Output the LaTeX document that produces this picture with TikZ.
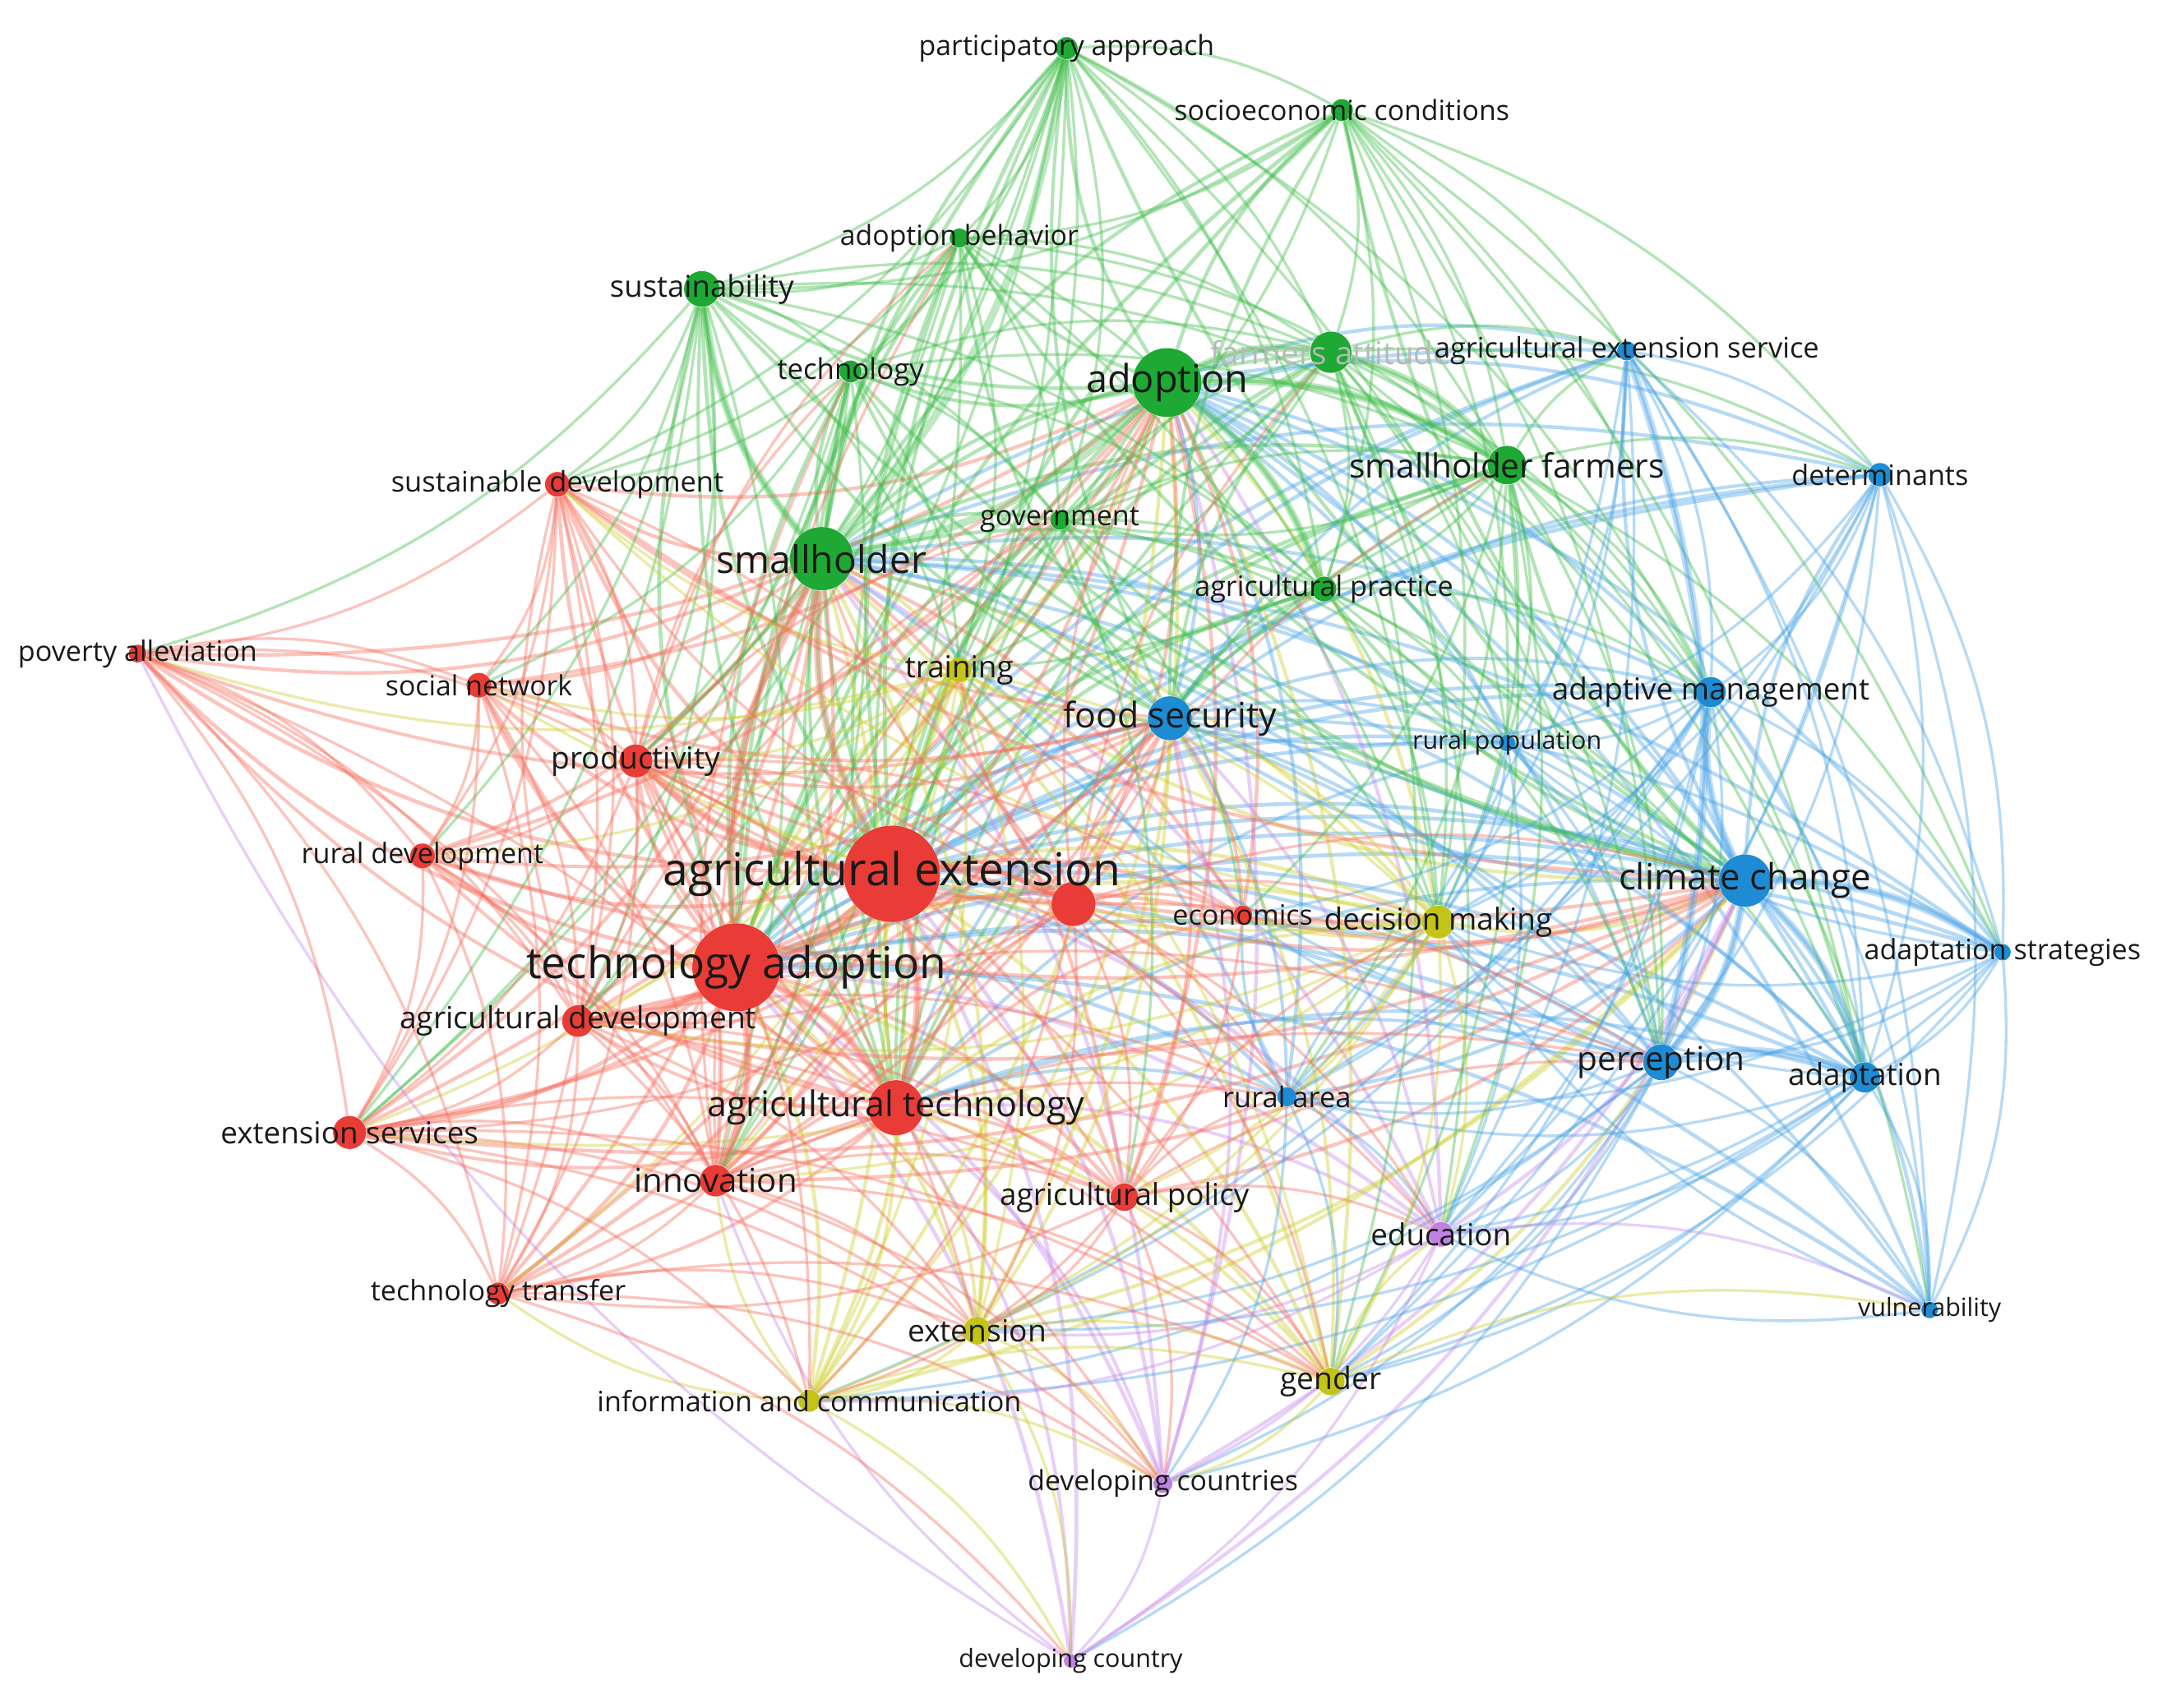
\documentclass[tikz,border=0pt]{standalone}
\usepackage{fontspec}
\setmainfont{Open Sans}
\pgfdeclarelayer{edges}
\pgfdeclarelayer{labels}
\pgfsetlayers{edges,main,labels}
\definecolor{nR}{RGB}{234,60,54}
\definecolor{nG}{RGB}{30,168,52}
\definecolor{nB}{RGB}{30,140,212}
\definecolor{nY}{RGB}{196,196,24}
\definecolor{nP}{RGB}{190,130,225}
\definecolor{eR}{RGB}{246,108,90}
\definecolor{eG}{RGB}{62,188,72}
\definecolor{eB}{RGB}{72,162,230}
\definecolor{eY}{RGB}{205,205,40}
\definecolor{eP}{RGB}{198,135,235}
\newcommand\kw[7]{%
  \tikzset{ec#1/.style={e#5}}%
  \node[kwdot, minimum size={#4*0.5pt}, fill=n#5] (#1) at (#2,#3) {};
  \begin{pgfonlayer}{labels}
  \node[kwlab, font=\fontsize{#6pt}{#6pt}\selectfont] (#1-l) at (#2,#3) {#7};
  \end{pgfonlayer}}
% connectors coloured by the far (target) keyword
\newcommand\kwedges[3]{%
  \foreach \t in {#3} {\draw[edge, ec\t, #1] (#2) to[bend left=16] (\t);}}
% connectors coloured by the source keyword
\newcommand\kwedgesS[3]{%
  \foreach \t in {#3} {\draw[edge, ec#2, #1] (#2) to[bend left=16] (\t);}}
\begin{document}
\begin{tikzpicture}[x=0.5pt,y=-0.5pt,
  kwdot/.style={circle,inner sep=0pt,draw=none},
  kwlab/.style={inner sep=0pt,text=black!90},
  edge/.style={line width=1.0pt, opacity=0.4},
  hubedge/.style={line width=2.8pt, opacity=0.34}]
\useasboundingbox (0,0) rectangle (1568,1241);
% ---------- green ----------
\kw{pa}{775}{35}{16}{G}{10.1}{participatory approach}
\kw{sc}{975}{80}{16}{G}{10.1}{socioeconomic conditions}
\kw{ab}{697}{173}{14}{G}{10.1}{adoption behavior}
\kw{su}{510}{210}{26}{G}{10.9}{sustainability}
\kw{te}{618}{270}{16}{G}{10.4}{technology}
\kw{ad}{848}{278}{50}{G}{14}{adoption}
\kw{fa}{967}{256}{30}{G}{11.5}{\textcolor{black!28}{farmers attitude}}
\kw{sf}{1095}{338}{28}{G}{12.1}{smallholder farmers}
\kw{go}{770}{378}{14}{G}{10.2}{government}
\kw{sh}{597}{406}{46}{G}{13.8}{smallholder}
\kw{ap}{962}{428}{18}{G}{10.2}{agricultural practice}
% ---------- blue ----------
\kw{aes}{1182}{255}{14}{B}{10.3}{agricultural extension service}
\kw{de}{1366}{345}{17}{B}{10.2}{determinants}
\kw{am}{1243}{503}{22}{B}{11}{adaptive management}
\kw{fs}{850}{522}{32}{B}{12.8}{food security}
\kw{rp}{1095}{540}{12}{B}{9.1}{rural population}
\kw{cc}{1268}{640}{38}{B}{13.1}{climate change}
\kw{ast}{1455}{692}{12}{B}{10.2}{adaptation strategies}
\kw{pe}{1207}{772}{26}{B}{12.1}{perception}
\kw{aa}{1355}{783}{22}{B}{11}{adaptation}
\kw{ra}{935}{797}{14}{B}{10.3}{rural area}
\kw{vu}{1402}{952}{12}{B}{9.1}{vulnerability}
% ---------- yellow ----------
\kw{tr}{697}{487}{18}{Y}{11}{training}
\kw{dm}{1045}{670}{24}{Y}{11}{decision making}
\kw{ex}{710}{967}{20}{Y}{11.1}{extension}
\kw{ic}{588}{1018}{16}{Y}{10.2}{information and communication}
\kw{ge}{967}{1004}{20}{Y}{11.1}{gender}
% ---------- purple ----------
\kw{ed}{1047}{897}{18}{P}{11}{education}
\kw{dcs}{845}{1078}{14}{P}{10.1}{developing countries}
\kw{dc}{778}{1207}{10}{P}{9.1}{developing country}
% ---------- red ----------
\kw{sd}{405}{352}{18}{R}{10.3}{sustainable development}
\kw{pv}{100}{475}{13}{R}{10.2}{poverty alleviation}
\kw{sn}{348}{498}{18}{R}{10.1}{social network}
\kw{pr}{462}{553}{24}{R}{11.1}{productivity}
\kw{rd}{307}{622}{18}{R}{10.2}{rural development}
\kw{ae}{648}{635}{70}{R}{16.5}{agricultural extension}
\tikzset{ecun/.style={eR}}
\node[kwdot, minimum size=16pt, fill=nR] (un) at (780,657) {};
\kw{ec}{903}{665}{14}{R}{10.2}{economics}
\kw{ta}{535}{703}{64}{R}{15.9}{technology adoption}
\kw{agd}{420}{742}{23}{R}{11.1}{agricultural development}
\kw{es}{254}{823}{24}{R}{11}{extension services}
\kw{atc}{651}{805}{40}{R}{12.85}{agricultural technology}
\kw{inn}{520}{858}{23}{R}{12}{innovation}
\kw{apo}{817}{870}{20}{R}{11}{agricultural policy}
\kw{tt}{362}{940}{16}{R}{10.2}{technology transfer}
% ---------- connectors ----------
\begin{pgfonlayer}{edges}
% hubs (coloured by the other keyword)
\kwedges{line width=1.4pt}{ae}{pa,sc,ab,su,te,ad,fa,sf,go,sh,ap,aes,de,am,fs,rp,cc,ast,pe,aa,ra,vu,tr,dm,ex,ic,ge,ed,dcs,dc,sd,pv,sn,pr,rd,un,ec,ta,agd,es,atc,inn,apo,tt}
\kwedges{line width=1.4pt}{ta}{pa,sc,ab,su,te,ad,fa,sf,go,sh,ap,aes,de,am,fs,rp,cc,ast,pe,aa,ra,vu,tr,dm,ex,ic,ge,ed,dcs,dc,sd,pv,sn,pr,rd,un,ec,agd,es,atc,inn,apo,tt}
\kwedges{line width=1.2pt}{atc}{pa,ab,su,te,ad,fa,sf,go,sh,ap,fs,rp,cc,pe,aa,ra,tr,dm,ex,ic,ge,ed,dcs,dc,sd,pv,sn,pr,rd,un,ec,agd,es,inn,apo,tt}
\kwedges{line width=1.3pt}{sh}{pa,sc,ab,su,te,ad,fa,sf,go,ap,aes,de,am,fs,rp,cc,ast,pe,aa,ra,tr,dm,ex,ic,ge,ed,dcs,sd,pv,sn,pr,rd,un,ec,agd,es,inn,apo,tt}
\kwedges{line width=1.3pt}{ad}{pa,sc,ab,su,te,fa,sf,go,ap,aes,de,am,fs,rp,cc,ast,pe,aa,ra,vu,tr,dm,ex,ic,ge,ed,dcs,sd,pv,sn,pr,rd,un,ec,agd,es,inn,apo,tt}
\kwedges{line width=1.3pt}{cc}{pa,sc,ab,su,te,fa,sf,go,ap,aes,de,am,fs,rp,ast,pe,aa,ra,vu,tr,dm,ex,ic,ge,ed,dcs,dc,sd,pr,rd,un,ec,agd,es,inn,apo}
\kwedges{line width=1.2pt}{fs}{pa,sc,ab,su,te,fa,sf,go,ap,aes,de,am,rp,ast,pe,aa,ra,vu,tr,dm,ex,ic,ge,ed,dcs,sd,pv,sn,pr,rd,un,ec,agd,es,inn,apo,tt}
% green
\kwedgesS{}{pa}{sc,ab,su,te,fa,sf,go,ap,tr,am,pe,dm,pr,sd,inn,agd,es}
\kwedgesS{}{sc}{ab,su,fa,sf,ap,go,aes,de,am,pe,dm,rp,aa,ast}
\kwedgesS{}{ab}{su,te,fa,sf,go,ap,tr,pr,sd,inn,dm}
\kwedgesS{}{su}{te,fa,sf,go,ap,sd,pv,tr,pr,rd,sn,inn,agd,es}
\kwedgesS{}{te}{fa,sf,go,ap,tr,inn,pr,sd,sn,agd,es}
\kwedgesS{}{fa}{sf,go,ap,aes,am,de,dm,pe,rp,tr,ge,ed,aa}
\kwedgesS{}{sf}{go,ap,aes,de,am,pe,aa,ast,dm,rp,ra,ed,tr,ec,ge,vu}
\kwedgesS{}{go}{ap,tr,dm,fa,sf,ec,rp,apo}
\kwedgesS{}{ap}{am,dm,rp,pe,aa}
% blue
\kwedgesS{}{aes}{de,am,pe,rp,dm,aa,ast,vu,ra,ed}
\kwedgesS{}{de}{am,pe,aa,ast,vu,rp,dm,ed,ge,ra}
\kwedgesS{}{am}{pe,aa,ast,vu,rp,dm,ra,ed,tr,ge,ex,ic,ec}
\kwedgesS{}{rp}{pe,aa,ra,dm,ed}
\kwedgesS{}{ast}{pe,aa,vu,ra,ed,ge,dm,rp}
\kwedgesS{}{pe}{aa,vu,ra,dm,ed,ge,dcs,tr,ex,ic,dc,ec}
\kwedgesS{}{aa}{vu,ra,dm,ed,ge,ic,ex,dcs}
\kwedgesS{}{ra}{dm,ed,ge,dcs,ec}
\kwedgesS{}{vu}{ed,dm}
% yellow
\kwedgesS{}{tr}{dm,ex,ic,ge,sn,pr,tt,agd,inn,es,rd,sd,pv}
\kwedgesS{}{dm}{ex,ic,ge,ed,ec,apo,pr,agd,inn,es,sd,sn}
\kwedgesS{}{ex}{ic,ge,dcs,dc}
\kwedgesS{}{ic}{ge,dcs,dc,inn,tt}
\kwedgesS{}{ge}{ed,dcs,vu}
% purple
\kwedgesS{}{ed}{dcs,dc,ic,ex,vu}
\kwedgesS{}{dcs}{dc}
\kwedgesS{}{dc}{inn,pv}
% red
\kwedgesS{}{sd}{pv,sn,pr,rd,agd,es,inn,tt,un}
\kwedgesS{}{pv}{sn,pr,rd,agd,es,tt,inn,dcs}
\kwedgesS{}{sn}{pr,rd,agd,es,inn,tt}
\kwedgesS{}{pr}{rd,agd,es,inn,tt,un,apo,te,ab,go,ec,ed,ge,ex,ic}
\kwedgesS{}{rd}{agd,es,inn,tt}
\kwedgesS{}{agd}{es,inn,tt,apo,sd,go,ex,ic,pe,ra,ge}
\kwedgesS{}{es}{inn,tt,apo,ic,ex,dcs,ge}
\kwedgesS{}{inn}{tt,apo,un,te,ab,go,ex,ra,ge,dcs,pe}
\kwedgesS{}{un}{ec,apo,dm,ed,sh,ad,fs,cc,pe,tr,ra,ge,ex,ic,agd,es,pr,sd,sf,fa}
\kwedgesS{}{ec}{apo}
\kwedgesS{}{apo}{tt,ed,ge,ra,dm,pe,ex,ic,dcs}
\kwedgesS{}{tt}{ex,dc,dcs,ge}
% strong links
\foreach \a/\b/\c in {ae/ta/eR,ae/atc/eR,ta/atc/eR,ae/un/eR,ta/inn/eR,ae/sh/eR,ta/sh/eR,ta/agd/eR,ae/pr/eR}
  {\draw[hubedge,\c] (\a) to[bend left=16] (\b);}
\foreach \a/\b/\c in {ad/sh/eG,ad/fa/eG,ad/sf/eG,sh/su/eG,ad/ap/eG,fa/sf/eG,pa/sh/eG}
  {\draw[hubedge,\c] (\a) to[bend left=16] (\b);}
\foreach \a/\b/\c in {cc/pe/eB,cc/am/eB,cc/aa/eB,cc/ast/eB,pe/aa/eB,aes/pe/eB}
  {\draw[hubedge,\c] (\a) to[bend left=16] (\b);}
\end{pgfonlayer}
\end{tikzpicture}
\end{document}
